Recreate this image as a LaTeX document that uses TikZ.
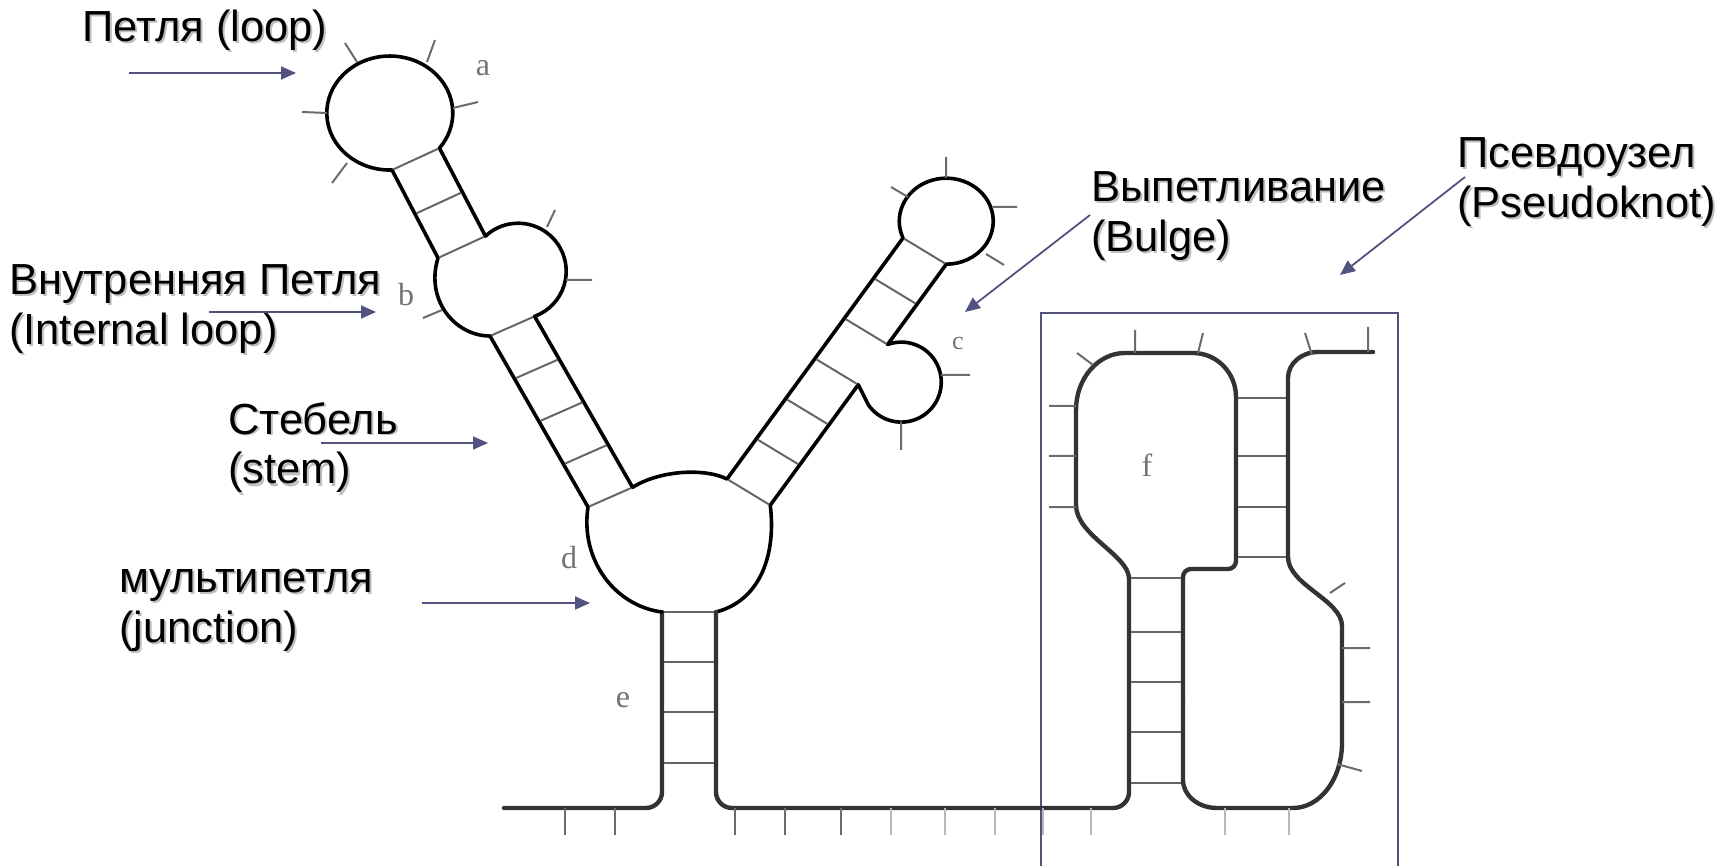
\documentclass[tikz,border=0pt]{standalone}
\usepackage{fontspec}
\setmainfont{Liberation Sans}
\newfontfamily\letterfont{Liberation Serif}
\usetikzlibrary{arrows.meta,calc}
\definecolor{slate}{RGB}{82,82,128}
\newcommand{\shd}[1]{\rlap{\kern2pt\raisebox{-2pt}{\color{black!25}#1}}#1}

\tikzset{
  strand/.style={draw=black, line width=3.6pt, line cap=round, line join=round},
  strandk/.style={strand, draw=black!80, line width=4.4pt},
  rung/.style={draw=black!60, line width=2pt, shorten <=1.6pt, shorten >=1.6pt},
  tickmark/.style={draw=black!58, line width=2pt},
  faintmark/.style={draw=black!28, line width=2.4pt},
  pointer/.style={draw=slate, line width=1.8pt, -{Triangle[length=15pt, width=13pt]}},
  lbl/.style={anchor=base west, inner sep=0pt, align=left, font=\fontsize{43.5}{50}\selectfont},
  letr/.style={inner sep=0pt, text=black!55, font=\letterfont\fontsize{32}{32}\selectfont},
}

\begin{document}
\begin{tikzpicture}[x=1pt, y=1pt, yscale=-1]
\useasboundingbox (0,0) rectangle (1733,866);

% labels (anchored at the baseline of the last line)
\node[lbl] (loop) at (82,42) {\shd{Петля (loop)}};
\node[lbl] (internal) at (9,345) {\shd{Внутренняя Петля}\\\shd{(Internal loop)}};
\node[lbl] (stem) at (228,484) {\shd{Стебель}\\\shd{(stem)}};
\node[lbl] (junction) at (119,642) {\shd{мультипетля}\\\shd{(junction)}};
\node[lbl] (bulge) at (1091,252) {\shd{Выпетливание}\\\shd{(Bulge)}};
\node[lbl] (pknot) at (1457,218) {\shd{Псевдоузел}\\\shd{(Pseudoknot)}};

% arrows
\coordinate (loop0) at (129,73);   \coordinate (loop1) at (296,73);
\coordinate (int0) at (209,312);   \coordinate (int1) at (376,312);
\coordinate (stem0) at (321,443);  \coordinate (stem1) at (488,443);
\coordinate (junc0) at (422,603);  \coordinate (junc1) at (590,603);
\coordinate (bulge0) at (1090,215); \coordinate (bulge1) at (965,312);
\coordinate (pk0) at (1465,177);   \coordinate (pk1) at (1340,275);
\draw[pointer] (loop0) -- (loop1);
\draw[pointer] (int0) -- (int1);
\draw[pointer] (stem0) -- (stem1);
\draw[pointer] (junc0) -- (junc1);
\draw[pointer] (bulge0) -- (bulge1);
\draw[pointer] (pk0) -- (pk1);

% pseudoknot frame
\draw[slate, line width=1.6pt] (1041,866) -- (1041,313) -- (1398,313) -- (1398,866);

% backbone
\coordinate (s1) at (662,612);
\coordinate (s2) at (716,612);
\coordinate (d1) at (588,507);
\coordinate (c1) at (490,336);
\coordinate (b1) at (438,258);
\coordinate (a1) at (392,170);
\coordinate (e1) at (727,479);
\coordinate (f1) at (903,238);

\draw[strandk, rounded corners=16] (504,808) -- (662,808) -- (s1);
\draw[strand] (s1) .. controls (615,606) and (580,560) .. (d1) -- (c1)
  .. controls (455,336) and (425,300) .. (b1) -- (a1)
  arc[start angle=88, end angle=398, x radius=63, y radius=57] coordinate (a2)
  -- ++(46,88) coordinate (b2)
  arc[start angle=227, end angle=430, radius=48] coordinate (c2)
  -- ++(98,171) coordinate (d2)
  .. controls (660,470) and (705,468) .. (e1) -- (f1)
  arc[start angle=157, end angle=450, x radius=47, y radius=43] coordinate (f2)
  -- ++(-58.67,80.33) coordinate (g2)
  arc[start angle=250, end angle=505, radius=40]
  -- ($(f2)+(-88,120.5)$) coordinate (g1)
  -- ($(f2)+(-176,241)$) coordinate (e2)
  .. controls (776,552) and (762,600) .. (s2);
\draw[strandk, rounded corners=16] (s2) -- (716,808) -- (1129,808) -- (1129,578) coordinate (k1);
\draw[strandk] (k1) .. controls (1128,555) and (1076,535) .. (1076,505) -- (1076,410)
  arc[start angle=180, end angle=270, x radius=49, y radius=57] -- (1193,353)
  arc[start angle=270, end angle=360, x radius=43, y radius=44];
\draw[strandk, rounded corners=8] (1236,397) -- (1236,569) -- (1183,569) -- (1183,700);
\draw[strandk] (1183,700) -- (1183,780)
  arc[start angle=180, end angle=90, x radius=34, y radius=28] -- (1293,808)
  arc[start angle=90, end angle=0, x radius=49, y radius=65] -- (1342,626)
  .. controls (1342,600) and (1288,585) .. (1288,557) -- (1288,378)
  arc[start angle=180, end angle=270, x radius=30, y radius=26] -- (1373,352);

% base pairs
\foreach \t in {0,0.5,1} \draw[rung] ($(a1)!\t!(b1)$) -- ($(a2)!\t!(b2)$);
\foreach \t in {0,0.25,0.5,0.75,1} \draw[rung] ($(c1)!\t!(d1)$) -- ($(c2)!\t!(d2)$);
\foreach \k in {0,...,6} \draw[rung] ($(e1)!\k/6!(f1)$) -- ($(e2)!\k/6!(f2)$);
\foreach \y in {612,662,712,763} \draw[rung] (662,\y) -- (716,\y);
\foreach \y in {398,456,507,557} \draw[rung] (1236,\y) -- (1288,\y);
\foreach \y in {578,632,682,732,783} \draw[rung] (1129,\y) -- (1183,\y);

% unpaired bases
\draw[tickmark] (357,62) -- (345,43) (427,62) -- (435,40) (453,108) -- (478,102)
  (327,113) -- (302,112) (347,163) -- (332,183)
  (547,227) -- (555,210) (566,280) -- (592,280) (442,310) -- (423,318)
  (946,178) -- (946,157) (908,197) -- (891,187) (992,207) -- (1017,207) (986,254) -- (1004,265)
  (941,375) -- (970,375) (901,422) -- (901,450);
\foreach \x in {565,615,735,785,841} \draw[tickmark] (\x,808) -- (\x,835);
\foreach \x in {891,945,995,1043,1091,1225,1289} \draw[faintmark] (\x,808) -- (\x,835);
\draw[tickmark] (1135,353) -- (1135,330) (1198,353) -- (1203,333) (1093,365) -- (1077,353)
  (1076,406) -- (1049,406) (1076,456) -- (1049,456) (1076,507) -- (1049,507)
  (1312,355) -- (1305,333) (1368,352) -- (1368,327) (1330,593) -- (1345,583)
  (1342,648) -- (1370,648) (1342,702) -- (1370,702) (1337,764) -- (1362,771);

% region letters
\node[letr] (la) at (483,68) {a};
\node[letr] (lb) at (406,295) {b};
\node[letr, font=\letterfont\fontsize{26}{26}\selectfont] (lc) at (958,344) {c};
\node[letr] (ld) at (569,558) {d};
\node[letr] (le) at (623,700) {e};
\node[letr] (lf) at (1147,465) {f};
\end{tikzpicture}
\end{document}
